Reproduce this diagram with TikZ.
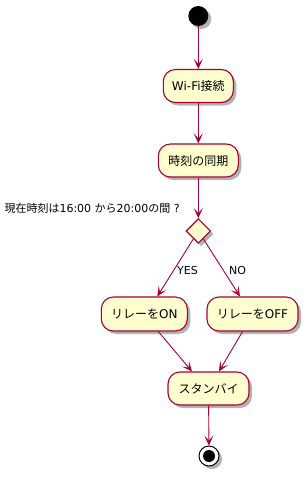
\documentclass[tikz,border=0pt]{standalone}
\usepackage{fontspec}
\setmainfont{DejaVu Sans}
\newfontfamily\jp{Noto Sans CJK JP}
\usepackage{tikz}
\usetikzlibrary{calc,positioning,arrows.meta,shapes.geometric,shadows}
\definecolor{UMLRed}{HTML}{A80036}
\definecolor{UMLFill}{HTML}{FEFECE}

\begin{document}
\begin{tikzpicture}[x=1pt,y=-1pt,>={Stealth[length=10pt,width=9pt,inset=5pt]},
  shade/.style={drop shadow={shadow xshift=3pt,shadow yshift=-3pt,fill=black,opacity=0.3}},
  act/.style={draw=UMLRed,fill=UMLFill,line width=1.1pt,rounded corners=12pt,minimum height=33pt,inner xsep=0pt,font=\fontsize{12}{14}\selectfont,shade},
  flow/.style={->,draw=UMLRed,line width=0.9pt},
  lbl/.style={font=\fontsize{11}{13}\selectfont}]
\useasboundingbox (0,0) rectangle (308,477);
% start / activities
\node[circle,fill=black,minimum size=20pt,inner sep=0pt,shade] (start) at (198.3,16) {};
\node[act,minimum width=70pt] (wifi) at (198.3,86) {Wi-Fi{\jp 接続}};
\node[act,minimum width=80pt] (sync) at (198.3,160.5) {{\jp 時刻の同期}};
% decision
\node[diamond,draw=UMLRed,fill=UMLFill,line width=1.1pt,inner sep=0pt,minimum width=24.6pt,minimum height=24.6pt,shade] (cond) at (198.3,231) {};
\node[lbl,anchor=west] (ask) at (1,208) {{\jp 現在時刻は}16:00 {\jp から}20:00{\jp の間} ?};
\node[act,minimum width=86pt,minimum height=34pt] (on) at (144.3,314) {{\jp リレーを}ON};
\node[act,minimum width=91pt,minimum height=34pt] (off) at (252.5,314) {{\jp リレーを}OFF};
\node[lbl] (yes) at (187.5,270) {YES};
\node[lbl] (no) at (237.5,270) {NO};
% merge / end
\node[act,minimum width=81pt] (stby) at (208.5,388.5) {{\jp スタンバイ}};
\node[circle,draw=black,fill=white,line width=1pt,minimum size=20pt,inner sep=0pt,shade] (stop) at (209,456) {};
\node[circle,fill=black,minimum size=12pt,inner sep=0pt] (stopdot) at (stop) {};
% flows
\draw[flow] (start) -- (wifi);
\draw[flow] (wifi) -- (sync);
\draw[flow] (sync) -- (cond);
\draw[flow] (cond) -- ([xshift=13pt]on.north);
\draw[flow] (cond) -- ([xshift=-12.5pt]off.north);
\draw[flow] ([xshift=14pt]on.south) -- ([xshift=-16.5pt]stby.north);
\draw[flow] ([xshift=-10pt]off.south) -- ([xshift=10.5pt]stby.north);
\draw[flow] (stby) -- (stop);
\end{tikzpicture}
\end{document}
